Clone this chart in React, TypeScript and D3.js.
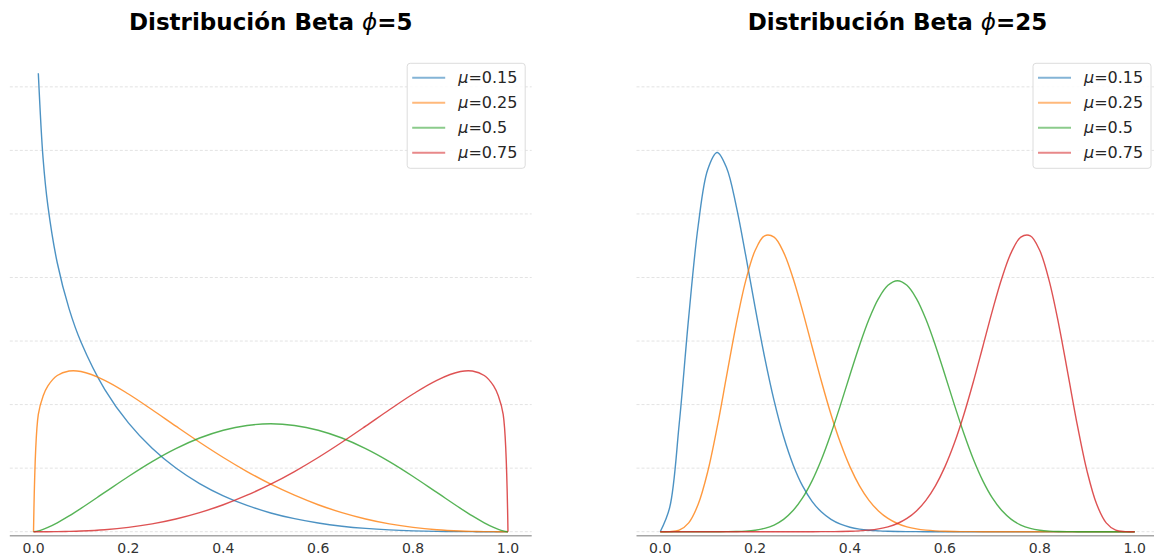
import React from 'react';
import * as d3 from 'd3';

// x grids (sample positions of the curves)
const xLeft = [0, 0.0101, 0.0202, 0.0303, 0.05, 0.075, 0.1, 0.15, 0.2, 0.25, 0.3, 0.35, 0.4, 0.45, 0.5, 0.55, 0.6, 0.65, 0.7, 0.75, 0.8, 0.85, 0.9, 0.925, 0.95, 0.9697, 0.9798, 0.9899, 1];
const xRight = [0, 0.02, 0.04, 0.06, 0.08, 0.1, 0.12, 0.14, 0.16, 0.18, 0.2, 0.22, 0.24, 0.26, 0.28, 0.3, 0.32, 0.34, 0.36, 0.38, 0.4, 0.42, 0.44, 0.46, 0.48, 0.5, 0.52, 0.54, 0.56, 0.58, 0.6, 0.62, 0.64, 0.66, 0.68, 0.7, 0.72, 0.74, 0.76, 0.78, 0.8, 0.82, 0.84, 0.86, 0.88, 0.9, 0.92, 0.94, 0.96, 0.98, 1];

// phi = 5 densities
const blueLeft = [null, 7.215, 5.868, 5.127, 4.232, 3.506, 2.985, 2.240, 1.712, 1.313, 1.002, 0.758, 0.565, 0.414, 0.295, 0.205, 0.137, 0.0868, 0.0516, 0.0281, 0.0134, 0.0052, 0.0014, 0.0005, 0.0001, 0.00003, 0.00001, 0, 0];
const orangeLeft = [0, 1.846, 2.134, 2.295, 2.458, 2.528, 2.520, 2.383, 2.167, 1.919, 1.661, 1.408, 1.168, 0.947, 0.748, 0.574, 0.424, 0.300, 0.200, 0.123, 0.0678, 0.0312, 0.0104, 0.0047, 0.0016, 0.0004, 0.0001, 0.00002, 0];
const greenLeft = [0, 0.0136, 0.0378, 0.0684, 0.1406, 0.248, 0.367, 0.618, 0.869, 1.103, 1.307, 1.474, 1.597, 1.672, 1.698, 1.672, 1.597, 1.474, 1.307, 1.103, 0.869, 0.618, 0.367, 0.248, 0.1406, 0.0684, 0.0378, 0.0136, 0];
const redLeft = [0, 0.00002, 0.0001, 0.0004, 0.0016, 0.0047, 0.0104, 0.0312, 0.0678, 0.123, 0.200, 0.300, 0.424, 0.574, 0.748, 0.947, 1.168, 1.408, 1.661, 1.919, 2.167, 2.383, 2.520, 2.528, 2.458, 2.295, 2.134, 1.846, 0];

// phi = 25 densities
const blueRight = [0, 0.382, 1.694, 3.373, 4.814, 5.697, 5.968, 5.724, 5.132, 4.355, 3.529, 2.747, 2.062, 1.497, 1.054, 0.720, 0.478, 0.309, 0.194, 0.118, 0.0701, 0.0403, 0.0225, 0.0122, 0.0064, 0.0032, 0.0016, 0.0007, 0.0003, 0.0001, 0.00006, 0, 0, 0, 0, 0, 0, 0, 0, 0, 0, 0, 0, 0, 0, 0, 0, 0, 0, 0, 0];
const orangeRight = [0, 0.0009, 0.0241, 0.1393, 0.4306, 0.9406, 1.644, 2.455, 3.260, 3.944, 4.424, 4.656, 4.635, 4.396, 3.989, 3.475, 2.915, 2.359, 1.844, 1.394, 1.020, 0.722, 0.494, 0.327, 0.209, 0.129, 0.0770, 0.0441, 0.0243, 0.0128, 0.0064, 0.0031, 0.0014, 0.0006, 0.0002, 0.0001, 0, 0, 0, 0, 0, 0, 0, 0, 0, 0, 0, 0, 0, 0, 0];
const greenRight = [0, 0, 0, 0, 0.000003, 0.00003, 0.0002, 0.0009, 0.0031, 0.0092, 0.0233, 0.0521, 0.1052, 0.1944, 0.3326, 0.5319, 0.8005, 1.140, 1.545, 1.996, 2.470, 2.931, 3.343, 3.668, 3.877, 3.950, 3.877, 3.668, 3.343, 2.931, 2.470, 1.996, 1.545, 1.140, 0.8005, 0.5319, 0.3326, 0.1944, 0.1052, 0.0521, 0.0233, 0.0092, 0.0031, 0.0009, 0.0002, 0.00003, 0.000003, 0, 0, 0, 0];
const redRight = [0, 0, 0, 0, 0, 0, 0, 0, 0, 0, 0, 0, 0, 0, 0, 0.0001, 0.0002, 0.0006, 0.0014, 0.0031, 0.0064, 0.0128, 0.0243, 0.0441, 0.0770, 0.129, 0.209, 0.327, 0.494, 0.722, 1.020, 1.394, 1.844, 2.359, 2.915, 3.475, 3.989, 4.396, 4.635, 4.656, 4.424, 3.944, 3.260, 2.455, 1.644, 0.9406, 0.4306, 0.1393, 0.0241, 0.0009, 0];

const xTicks = [0, 0.2, 0.4, 0.6, 0.8, 1.0];
const xTickLabels = ['0.0', '0.2', '0.4', '0.6', '0.8', '1.0'];
const yGridValues = [0, 1, 2, 3, 4, 5, 6, 7];
const muLabels = ['0.15', '0.25', '0.5', '0.75'];
const phiLabels = ['5', '25'];
const colors = ['#1f77b4', '#ff7f0e', '#2ca02c', '#d62728'];

const W = 1154;
const H = 556;
const FONT = "'DejaVu Sans', sans-serif";

const yScale = d3.scaleLinear().domain([0, 7]).range([531.7, 86.85]);

type PanelProps = {
  x0: number;
  x1: number;
  xs: number[];
  series: (number | null)[][];
  phi: string;
  legendRight: number;
};

function Panel({ x0, x1, xs, series, phi, legendRight }: PanelProps) {
  const xScale = d3.scaleLinear().domain([-0.05, 1.05]).range([x0, x1]);
  const line = d3
    .line<[number, number | null]>()
    .defined((d) => d[1] !== null && isFinite(d[1] as number))
    .x((d) => xScale(d[0]))
    .y((d) => yScale(d[1] as number))
    .curve(d3.curveCatmullRom.alpha(0.5));

  const lgW = 118;
  const lgX = legendRight - lgW;
  const lgY = 63.3;
  const lgH = 105;
  const rowY = [77.7, 102.7, 127.7, 152.7];

  return (
    <g>
      {/* grid */}
      {yGridValues.map((v) => (
        <line
          key={v}
          x1={x0}
          x2={x1}
          y1={yScale(v)}
          y2={yScale(v)}
          stroke="#e3e3e3"
          strokeWidth={1}
          strokeDasharray="3,2"
        />
      ))}
      {/* curves */}
      {series.map((ys, i) => (
        <path
          key={i}
          d={line(xs.map((x, j) => [x, ys[j]] as [number, number | null])) || ''}
          fill="none"
          stroke={colors[i]}
          strokeOpacity={0.8}
          strokeWidth={1.4}
        />
      ))}
      {/* bottom spine */}
      <line x1={x0} x2={x1} y1={535.8} y2={535.8} stroke="#a6a6a6" strokeWidth={1.6} />
      {xTicks.map((t, i) => (
        <text
          key={t}
          x={xScale(t)}
          y={552.8}
          textAnchor="middle"
          fontFamily={FONT}
          fontSize={14}
          fill="#333"
        >
          {xTickLabels[i]}
        </text>
      ))}
      {/* title */}
      <text
        x={(x0 + x1) / 2}
        y={30}
        textAnchor="middle"
        fontFamily={FONT}
        fontSize={23}
        fontWeight="bold"
        fill="#000"
      >
        Distribución Beta{' '}
        <tspan fontStyle="italic" fontWeight="normal">ϕ</tspan>
        ={phi}
      </text>
      {/* legend */}
      <rect
        x={lgX}
        y={lgY}
        width={lgW}
        height={lgH}
        rx={3}
        fill="#fff"
        fillOpacity={0.85}
        stroke="#dcdcdc"
        strokeWidth={1}
      />
      {muLabels.map((m, i) => (
        <g key={m}>
          <line
            x1={lgX + 5}
            x2={lgX + 38}
            y1={rowY[i]}
            y2={rowY[i]}
            stroke={colors[i]}
            strokeOpacity={0.55}
            strokeWidth={2}
          />
          <text x={lgX + 51} y={rowY[i] + 5.5} fontFamily={FONT} fontSize={16} fill="#262626">
            <tspan fontStyle="italic">μ</tspan>={m}
          </text>
        </g>
      ))}
    </g>
  );
}

export default function App() {
  return (
    <svg
      width={W}
      height={H}
      style={{ position: 'absolute', left: 0, top: 0, background: '#fff' }}
    >
      <Panel
        x0={9.8}
        x1={531.7}
        xs={xLeft}
        series={[blueLeft, orangeLeft, greenLeft, redLeft]}
        phi={phiLabels[0]}
        legendRight={525.2}
      />
      <Panel
        x0={636.5}
        x1={1158.4}
        xs={xRight}
        series={[blueRight, orangeRight, greenRight, redRight]}
        phi={phiLabels[1]}
        legendRight={1151}
      />
    </svg>
  );
}
